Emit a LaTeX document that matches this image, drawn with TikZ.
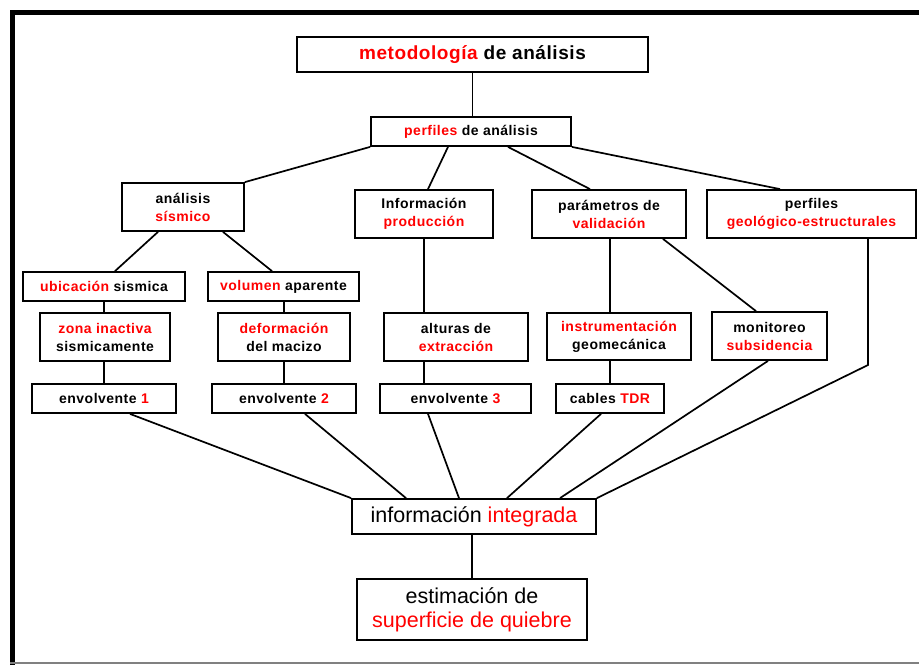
\documentclass[tikz,border=0pt]{standalone}
\usepackage{fontspec}
\setmainfont{Liberation Sans}
\newfontfamily\labfont[LetterSpace=3.5]{Liberation Sans}
\newfontfamily\ttlfont[LetterSpace=3]{Liberation Sans}
\definecolor{accent}{RGB}{255,0,0}
\newcommand{\hl}[1]{\textcolor{accent}{#1}}
\tikzset{
  box/.style={draw=black, line width=1.8pt, fill=white, inner sep=0pt, align=center,
    font=\labfont\bfseries\fontsize{14}{18}\selectfont},
  bigbox/.style={box, font=\ttlfont\bfseries\fontsize{19}{22}\selectfont},
  endbox/.style={box, font=\fontsize{21.5}{24}\selectfont},
  link/.style={line width=1.7pt, draw=black}
}
\begin{document}
\begin{tikzpicture}[x=1pt, y=-1pt]
\useasboundingbox (0,0) rectangle (919,665);
% outer frame
\fill[white] (0,0) rectangle (919,665);
\fill[black] (10,10) rectangle (919,14.5);
\fill[black] (10,10) rectangle (15,665);
\draw[gray, line width=1.2pt] (10,663) -- (919,663);

% top levels
\node[bigbox, minimum width=351pt, minimum height=35pt] (met) at (472.5,54.5) {\hl{metodología} de análisis};
\node[box, minimum width=200pt, minimum height=29pt] (perf) at (471,131.5) {\hl{perfiles} de análisis};

% analysis branches
\node[box, minimum width=122pt, minimum height=48pt] (sis) at (183,207) {análisis\\\hl{sísmico}};
\node[box, minimum width=138pt, minimum height=48pt] (info) at (424,214) {Información\\\hl{producción}};
\node[box, minimum width=154pt, minimum height=48pt] (par) at (609,214) {parámetros de\\\hl{validación}};
\node[box, minimum width=209pt, minimum height=48pt] (geo) at (811.5,214) {perfiles\\\hl{geológico-estructurales}};

% second level
\node[box, minimum width=162pt, minimum height=29pt] (ubi) at (104,286.5) {\hl{ubicación} sismica};
\node[box, minimum width=151pt, minimum height=29pt] (vol) at (283.5,286.5) {\hl{volumen} aparente};

% third level
\node[box, minimum width=130pt, minimum height=48pt] (zona) at (105,337) {\hl{zona inactiva}\\sismicamente};
\node[box, minimum width=132pt, minimum height=48pt] (def) at (284,337) {\hl{deformación}\\del macizo};
\node[box, minimum width=144pt, minimum height=48pt] (alt) at (456,337) {alturas de\\\hl{extracción}};
\node[box, minimum width=144pt, minimum height=47pt] (ins) at (619,336.5) {\hl{instrumentación}\\geomecánica};
\node[box, minimum width=115pt, minimum height=48pt] (mon) at (769.5,336) {monitoreo\\\hl{subsidencia}};

% envelopes
\node[box, minimum width=144pt, minimum height=29pt] (e1) at (104,398.5) {envolvente \hl{1}};
\node[box, minimum width=144pt, minimum height=29pt] (e2) at (284,398.5) {envolvente \hl{2}};
\node[box, minimum width=151pt, minimum height=29pt] (e3) at (455.5,398.5) {envolvente \hl{3}};
\node[box, minimum width=108pt, minimum height=29pt] (tdr) at (610,398.5) {cables \hl{TDR}};

% results
\node[endbox, minimum width=244pt, minimum height=35pt] (int) at (474,516.5) {información \hl{integrada}};
\node[endbox, minimum width=230pt, minimum height=61pt] (est) at (472,609.5) {estimación de\\\hl{superficie de quiebre}};

\coordinate (bend) at (868,365);

% connectors
\draw[link] (met.south) -- (met.south |- perf.north);
\draw[link] (perf.south west) -- (sis.north east);
\draw[link] ([xshift=-23pt]perf.south) -- ([xshift=4pt]info.north);
\draw[link] ([xshift=37pt]perf.south) -- ([xshift=-19pt]par.north);
\draw[link] (perf.south east) -- ([xshift=-31.5pt]geo.north);

\draw[link] ([xshift=-25pt]sis.south) -- ([xshift=11pt]ubi.north);
\draw[link] ([xshift=40pt]sis.south) -- ([xshift=-11.5pt]vol.north);
\draw[link] (ubi.south) -- (ubi.south |- zona.north);
\draw[link] (ubi.south |- zona.south) -- (ubi.south |- e1.north);
\draw[link] (def.north |- vol.south) -- (def.north);
\draw[link] (def.south) -- (def.south |- e2.north);

\draw[link] (info.south) -- (info.south |- alt.north);
\draw[link] (info.south |- alt.south) -- (info.south |- e3.north);
\draw[link] (tdr.north |- par.south) -- (tdr.north |- ins.north);
\draw[link] (tdr.north |- ins.south) -- (tdr.north);
\draw[link] ([xshift=54pt]par.south) -- ([xshift=-13.5pt]mon.north);

\draw[link] ([xshift=26pt]e1.south) -- (int.north west);
\draw[link] ([xshift=21pt]e2.south) -- ([xshift=-68pt]int.north);
\draw[link] ([xshift=-27.5pt]e3.south) -- ([xshift=-15pt]int.north);
\draw[link] ([xshift=-9pt]tdr.south) -- ([xshift=33pt]int.north);
\draw[link] ([xshift=-1.5pt]mon.south) -- ([xshift=86pt]int.north);
\draw[link] ([xshift=56.5pt]geo.south) -- (bend) -- (int.north east);

\draw[link] (est.north |- int.south) -- (est.north);
\end{tikzpicture}
\end{document}
